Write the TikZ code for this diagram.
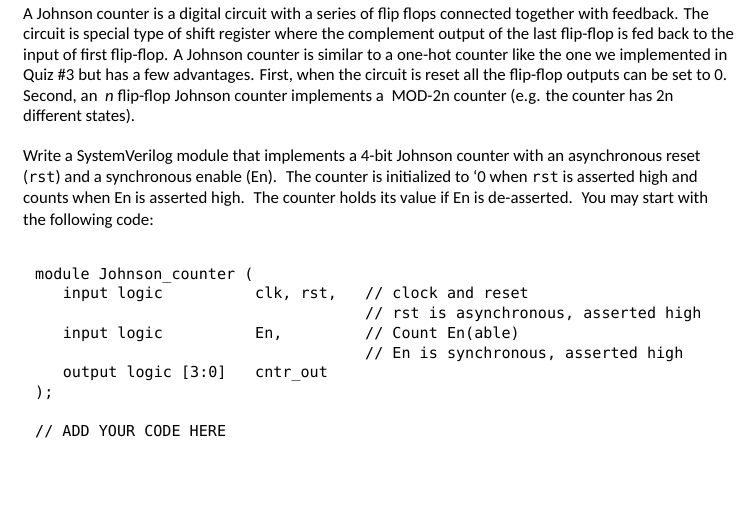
\documentclass[tikz,border=0pt]{standalone}
\usepackage{fontspec}
\setmainfont{Carlito}
\setmonofont{DejaVu Sans Mono}
\begin{document}
\begin{tikzpicture}[x=1pt,y=-1pt,
  body/.style={anchor=base west,inner sep=0pt,font=\fontsize{16.8}{20}\selectfont},
  code/.style={anchor=base west,inner sep=0pt,font=\fontsize{15.1}{17}\ttfamily}]
\useasboundingbox[fill=white] (0,0) rectangle (754,506);
\newcommand{\tm}[1]{{\fontsize{15.1}{17}\ttfamily #1}}
\node[body] (p1) at (23,19) {A Johnson counter is a digital circuit with a series of flip flops connected together with feedback. The};
\node[body] (p2) at (23,39.5) {circuit is special type of shift register where the complement output of the last flip-flop is fed back to the};
\node[body] (p3) at (23,60) {input of first flip-flop. A Johnson counter is similar to a one-hot counter like the one we implemented in};
\node[body] (p4) at (23,80.6) {Quiz \#3 but has a few advantages. First, when the circuit is reset all the flip-flop outputs can be set to 0.};
\node[body] (p5) at (23,101.2) {Second, an \ \textit{n} flip-flop Johnson counter implements a \ MOD-2n counter (e.g. the counter has 2n};
\node[body] (p6) at (23,121.7) {different states).};
\node[body] (q1) at (23,161.7) {Write a SystemVerilog module that implements a 4-bit Johnson counter with an asynchronous reset};
\node[body] (q2) at (23,182.8) {(\tm{rst}) and a synchronous enable (En). \ The counter is initialized to ‘0 when \tm{rst} is asserted high and};
\node[body] (q3) at (23,203.9) {counts when En is asserted high. \ The counter holds its value if En is de-asserted. \ You may start with};
\node[body] (q4) at (23,225) {the following code:};
\node[code] (c1) at (35,279) {module Johnson\_counter (};
\node[code] (c2) at (62.7,298.3) {input logic};
\node[code] (c2b) at (255,298.3) {clk, rst,};
\node[code] (c2c) at (365,298.3) {// clock and reset};
\node[code] (c3c) at (365,318.3) {// rst is asynchronous, asserted high};
\node[code] (c4) at (62.7,338.3) {input logic};
\node[code] (c4b) at (255,338.3) {En,};
\node[code] (c4c) at (365,338.3) {// Count En(able)};
\node[code] (c5c) at (365,358.3) {// En is synchronous, asserted high};
\node[code] (c6) at (62.7,377.3) {output logic [3:0]};
\node[code] (c6b) at (255,377.3) {cntr\_out};
\node[code] (c7) at (35,397) {);};
\node[code] (c8) at (35,436) {// ADD YOUR CODE HERE};
\end{tikzpicture}
\end{document}
